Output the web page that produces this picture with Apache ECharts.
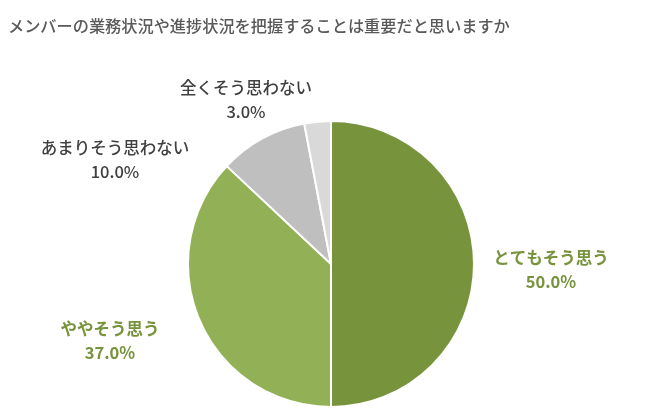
<!DOCTYPE html>
<html>
<head>
<meta charset="utf-8">
<script src="https://cdn.jsdelivr.net/npm/echarts@6/dist/echarts.min.js"></script>
<style>
  html, body { margin: 0; padding: 0; background: #fff; }
  #chart { width: 658px; height: 416px; }
</style>
</head>
<body>
<div id="chart"></div>
<script>
// 回答カテゴリと割合(%)
var categories = ["とてもそう思う", "ややそう思う", "あまりそう思わない", "全くそう思わない"];
var values = [50.0, 37.0, 10.0, 3.0];
var colors = ["#77933C", "#92B157", "#BFBFBF", "#D9D9D9"];
var labelColors = ["#77933C", "#77933C", "#404040", "#404040"];
// ラベルの置き場所 (px)
var labelPos = [[551, 270], [110, 341], [115, 160], [246, 100]];

var chart = echarts.init(document.getElementById("chart"));

var data = categories.map(function(name, i) {
    return {
        name: name,
        value: values[i],
        itemStyle: { color: colors[i] },
        label: {
            color: labelColors[i],
            fontWeight: i < 2 ? "bold" : 500
        }
    };
});

chart.setOption({
    animation: false,
    textStyle: { fontFamily: "Noto Sans CJK JP" },
    title: {
        text: "メンバーの業務状況や進捗状況を把握することは重要だと思いますか",
        left: 3,
        top: 13,
        textStyle: {
            fontFamily: "Noto Sans CJK JP",
            fontSize: 16.2,
            fontWeight: 500,
            color: "#595959"
        }
    },
    series: [
        {
            type: "pie",
            center: [331, 264],
            radius: 143,
            startAngle: 90,
            clockwise: true,
            data: data,
            itemStyle: {
                borderColor: "#fff",
                borderWidth: 2
            },
            label: {
                show: true,
                position: "outside",
                fontSize: 16.5,
                lineHeight: 24,
                align: "center",
                fontFamily: "Noto Sans CJK JP",
                formatter: function(p) {
                    return p.name + "\n" + p.value.toFixed(1) + "%";
                }
            },
            labelLine: { show: false },
            labelLayout: function(params) {
                var pos = labelPos[params.dataIndex];
                return {
                    x: pos[0],
                    y: pos[1],
                    align: "center",
                    verticalAlign: "middle"
                };
            },
            emphasis: { disabled: true }
        }
    ]
});
</script>
</body>
</html>
